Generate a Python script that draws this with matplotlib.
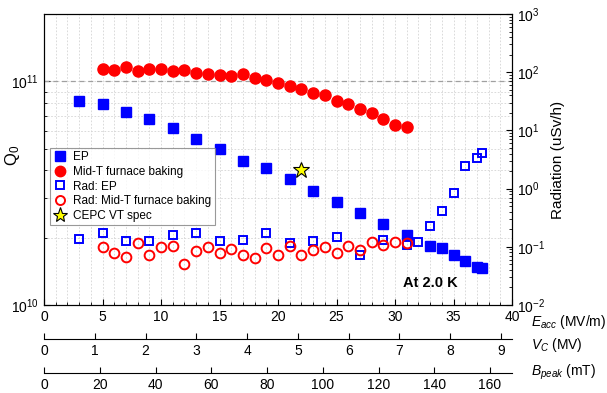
import numpy as np
import matplotlib.pyplot as plt
from matplotlib.lines import Line2D
from matplotlib.ticker import LogLocator, MultipleLocator, NullFormatter

plt.rcParams['font.family'] = ['Liberation Sans', 'DejaVu Sans']
plt.rcParams['mathtext.fontset'] = 'custom'
plt.rcParams['mathtext.rm'] = 'Liberation Sans'
plt.rcParams['mathtext.it'] = 'Liberation Sans:italic'
plt.rcParams['mathtext.default'] = 'regular'

# EP: Q0 vs Eacc
ep_e = [3, 5, 7, 9, 11, 13, 15, 17, 19, 21, 23, 25, 27, 29, 31, 33, 34, 35, 36, 37, 37.4]
ep_q = [8.2e10, 7.9e10, 7.3e10, 6.8e10, 6.2e10, 5.5e10, 5.0e10, 4.4e10, 4.1e10, 3.65e10,
        3.23e10, 2.88e10, 2.57e10, 2.3e10, 2.05e10, 1.83e10, 1.8e10, 1.67e10, 1.57e10,
        1.48e10, 1.46e10]

# Mid-T furnace baking: Q0 vs Eacc
mt_e = list(range(5, 32))
mt_q = [1.13e11, 1.12e11, 1.16e11, 1.11e11, 1.13e11, 1.13e11, 1.11e11, 1.12e11, 1.09e11,
        1.08e11, 1.07e11, 1.06e11, 1.08e11, 1.035e11, 1.01e11, 9.8e10, 9.5e10, 9.2e10,
        8.9e10, 8.66e10, 8.2e10, 7.95e10, 7.55e10, 7.2e10, 6.76e10, 6.36e10, 6.25e10]

# Radiation, EP (uSv/h)
rep_e = [3, 5, 7, 9, 11, 13, 15, 17, 19, 21, 23, 25, 27, 29, 31, 32, 33, 34, 35, 36, 37, 37.4]
rep_r = [0.136, 0.173, 0.126, 0.126, 0.159, 0.173, 0.126, 0.13, 0.173, 0.116, 0.126, 0.147,
         0.072, 0.13, 0.108, 0.12, 0.227, 0.41, 0.84, 2.44, 3.36, 4.1]

# Radiation, Mid-T furnace baking (uSv/h)
rmt_e = list(range(5, 32))
rmt_r = [0.098, 0.079, 0.066, 0.118, 0.072, 0.1, 0.103, 0.050, 0.086, 0.1, 0.077, 0.09,
         0.072, 0.065, 0.094, 0.072, 0.103, 0.073, 0.088, 0.1, 0.077, 0.104, 0.088, 0.122,
         0.107, 0.122, 0.118]

# CEPC vertical test spec
spec_e = [22]
spec_q = [4.0e10]

# secondary scales
V_PER_E = 0.2304   # MV per MV/m
B_PER_E = 4.197    # mT per MV/m

BLUE = '#0000ff'
RED = '#ff0000'

fig = plt.figure(figsize=(6.07, 3.93), dpi=100)
ax = fig.add_axes([44 / 607, 1 - 305 / 393, 468 / 607, 291 / 393])
ax2 = ax.twinx()

ax.set_xlim(0, 40)
ax.set_yscale('log')
ax.set_ylim(1e10, 2e11)
ax2.set_yscale('log')
ax2.set_ylim(1e-2, 1e3)

# grid
ax.xaxis.set_major_locator(MultipleLocator(5))
ax.xaxis.set_minor_locator(MultipleLocator(1))
ax.yaxis.set_major_locator(LogLocator(base=10, numticks=10))
ax.yaxis.set_minor_locator(LogLocator(base=10, subs=np.arange(2, 10), numticks=20))
ax.yaxis.set_minor_formatter(NullFormatter())
ax.grid(True, which='both', color='#d4d4d4', linestyle=(0, (2, 2)), linewidth=0.6)
ax.set_axisbelow(True)
ax.axhline(1e11, color='#a0a0a0', linestyle=(0, (4, 3)), linewidth=0.9, zorder=1)

ax.tick_params(which='both', direction='in', top=False, labelsize=10)
ax.tick_params(which='major', length=4)
ax.tick_params(which='minor', length=2)
ax2.yaxis.set_minor_locator(LogLocator(base=10, subs=np.arange(2, 10), numticks=20))
ax2.yaxis.set_minor_formatter(NullFormatter())
ax2.tick_params(which='both', direction='in', labelsize=10)
ax2.tick_params(which='major', length=4)
ax2.tick_params(which='minor', length=2)

ax.plot(ep_e, ep_q, 's', color=BLUE, ms=6.8, zorder=3)
ax.plot(mt_e, mt_q, 'o', color=RED, ms=8, zorder=3)
ax2.plot(rep_e, rep_r, 's', mfc='none', mec=BLUE, mew=1.4, ms=6, zorder=3)
ax2.plot(rmt_e, rmt_r, 'o', mfc='none', mec=RED, mew=1.4, ms=7, zorder=3)
ax.plot(spec_e, spec_q, '*', mfc='#ffff00', mec='black', mew=0.8, ms=12, zorder=4)

ax.set_ylabel('Q$_0$', fontsize=12)
ax.yaxis.set_label_coords(-22 / 468, 0.515)
ax2.set_ylabel('Radiation (uSv/h)', fontsize=11, labelpad=4)

ax.text(0.825, 0.076, 'At 2.0 K', transform=ax.transAxes, fontsize=10.5,
        fontweight='bold', ha='center', va='center')

handles = [
    Line2D([], [], ls='none', marker='s', color=BLUE, ms=6.5),
    Line2D([], [], ls='none', marker='o', color=RED, ms=7.5),
    Line2D([], [], ls='none', marker='s', mfc='none', mec=BLUE, mew=1.4, ms=5.5),
    Line2D([], [], ls='none', marker='o', mfc='none', mec=RED, mew=1.4, ms=6.5),
    Line2D([], [], ls='none', marker='*', mfc='#ffff00', mec='black', mew=0.8, ms=11),
]
labels = ['EP', 'Mid-T furnace baking', 'Rad: EP', 'Rad: Mid-T furnace baking', 'CEPC VT spec']
leg = ax2.legend(handles, labels, loc='upper left', bbox_to_anchor=(0.012, 0.54),
                 fontsize=8.5, frameon=True, fancybox=False, edgecolor='#808080',
                 handlelength=1.2, handletextpad=0.5, borderpad=0.3, labelspacing=0.22,
                 borderaxespad=0)
leg.get_frame().set_linewidth(0.8)

# secondary x axes below
sec_v = ax.secondary_xaxis(-34 / 291, functions=(lambda e: e * V_PER_E, lambda v: v / V_PER_E))
sec_v.xaxis.set_major_locator(MultipleLocator(1))
sec_v.tick_params(direction='in', length=4, labelsize=10)
sec_b = ax.secondary_xaxis(-68 / 291, functions=(lambda e: e * B_PER_E, lambda b: b / B_PER_E))
sec_b.xaxis.set_major_locator(MultipleLocator(20))
sec_b.tick_params(direction='in', length=4, labelsize=10)

ax.text(1.04, -17 / 291, r'$\it{E}_{acc}$ (MV/m)', transform=ax.transAxes,
        fontsize=10, ha='left', va='center')
ax.text(1.04, -40 / 291, r'$\it{V}_{C}$ (MV)', transform=ax.transAxes,
        fontsize=10, ha='left', va='center')
ax.text(1.04, -67 / 291, r'$\it{B}_{peak}$ (mT)', transform=ax.transAxes,
        fontsize=10, ha='left', va='center')

fig.savefig('out.png', dpi=100)
